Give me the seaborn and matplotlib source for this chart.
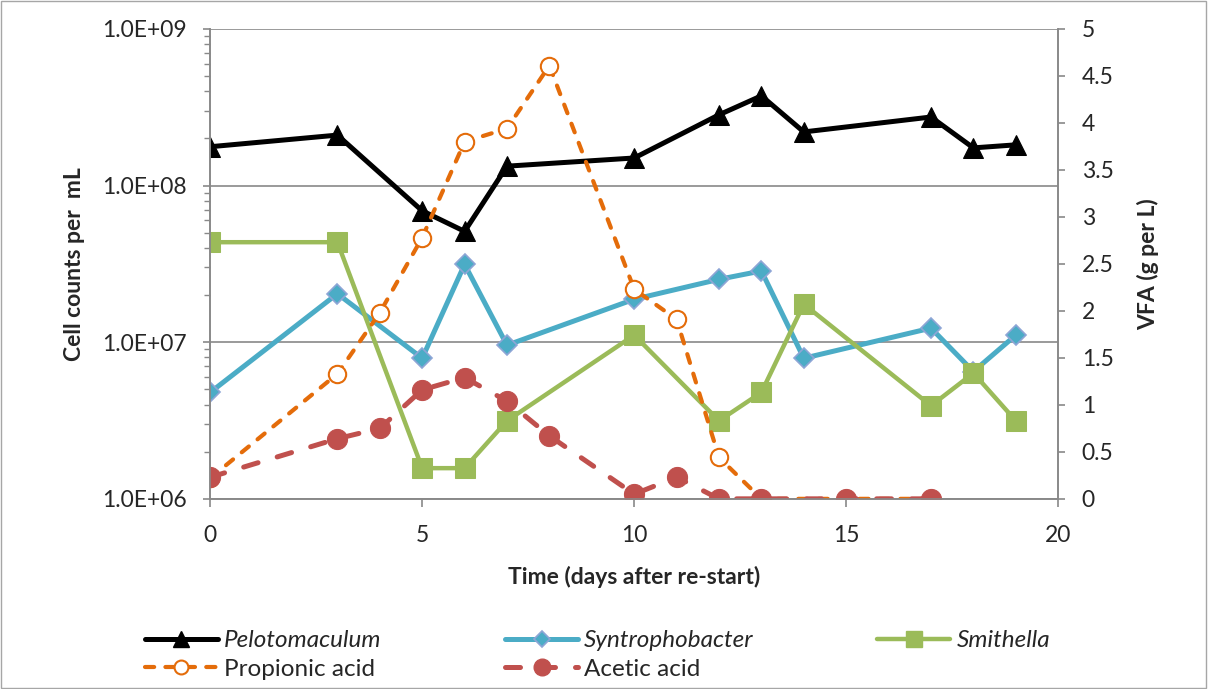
import math
import matplotlib
matplotlib.use("Agg")
import matplotlib.pyplot as plt
from matplotlib.ticker import FixedLocator, FuncFormatter, LogLocator, NullFormatter
from matplotlib.lines import Line2D
from matplotlib.patches import Rectangle
import seaborn as sns

# Cell counts (per mL), left log axis
pelo_days = [0, 3, 5, 6, 7, 10, 12, 13, 14, 17, 18, 19]
pelo_counts = [1.77e8, 2.1e8, 6.9e7, 5.1e7, 1.33e8, 1.5e8, 2.83e8, 3.74e8, 2.2e8, 2.74e8, 1.74e8, 1.82e8]

syn_days = [0, 3, 5, 6, 7, 10, 12, 13, 14, 17, 18, 19]
syn_counts = [4.78e6, 2.04e7, 7.9e6, 3.14e7, 9.57e6, 1.88e7, 2.52e7, 2.85e7, 7.9e6, 1.23e7, 6.5e6, 1.11e7]

smi_days = [0, 3, 5, 6, 7, 10, 12, 13, 14, 17, 18, 19]
smi_counts = [4.35e7, 4.35e7, 1.57e6, 1.57e6, 3.15e6, 1.11e7, 3.15e6, 4.78e6, 1.75e7, 3.93e6, 6.35e6, 3.15e6]

# Volatile fatty acids (g per L), right axis
prop_days = [0, 3, 4, 5, 6, 7, 8, 10, 11, 12, 13, 15, 17]
prop_vfa = [0.22, 1.33, 1.98, 2.78, 3.80, 3.94, 4.61, 2.23, 1.91, 0.44, 0.0, 0.0, 0.0]

acet_days = [0, 3, 4, 5, 6, 7, 8, 10, 11, 12, 13, 15, 17]
acet_vfa = [0.23, 0.64, 0.75, 1.16, 1.29, 1.04, 0.67, 0.05, 0.23, 0.0, 0.0, 0.0, 0.0]

left_ticks = [1e6, 1e7, 1e8, 1e9]
right_ticks = [0, 0.5, 1, 1.5, 2, 2.5, 3, 3.5, 4, 4.5, 5]
x_ticks = [0, 5, 10, 15, 20]

sns.set_theme(style="white")
plt.rcParams["font.family"] = ["Lato", "DejaVu Sans"]

C_BLACK = "#000000"
C_BLUE = "#4BACC6"
C_BLUE_EDGE = "#8EA5D6"
C_GREEN = "#9BBB59"
C_ORANGE = "#E46C0A"
C_RED = "#C0504D"
C_AXIS = "#898989"

TICK_FS = 16.5
LABEL_FS = 16.5
LEGEND_FS = 17.5

PROP_DASH = (0, (2.2, 2.7))
ACET_DASH = (0, (3.0, 4.0))

fig = plt.figure(figsize=(12.08, 6.89), dpi=100)
ax = fig.add_axes([0.174, 0.276, 0.702, 0.682])
ax2 = ax.twinx()

# Bacterial cell counts
sns.lineplot(x=pelo_days, y=pelo_counts, ax=ax, color=C_BLACK, linewidth=3.6,
             marker="^", markersize=14.5, markeredgecolor=C_BLACK, legend=False)
sns.lineplot(x=syn_days, y=syn_counts, ax=ax, color=C_BLUE, linewidth=3.6,
             marker="D", markersize=10, markeredgecolor=C_BLUE_EDGE,
             markeredgewidth=1.2, legend=False)
sns.lineplot(x=smi_days, y=smi_counts, ax=ax, color=C_GREEN, linewidth=3.2,
             marker="s", markersize=14, markeredgecolor=C_GREEN, legend=False)

# VFA concentrations
sns.lineplot(x=prop_days, y=prop_vfa, ax=ax2, color=C_ORANGE, linewidth=3.0,
             marker="o", markersize=12.5, markerfacecolor="white",
             markeredgecolor=C_ORANGE, markeredgewidth=1.5, legend=False)
ax2.lines[-1].set_linestyle(PROP_DASH)
sns.lineplot(x=acet_days, y=acet_vfa, ax=ax2, color=C_RED, linewidth=3.6,
             marker="o", markersize=14.5, markeredgecolor=C_RED, legend=False)
ax2.lines[-1].set_linestyle(ACET_DASH)
for ln in ax.lines + ax2.lines:
    ln.set_dash_capstyle("round")
    ln.set_solid_joinstyle("miter")

# Left log axis
ax.set_yscale("log")
ax.set_ylim(1e6, 1e9)
ax.yaxis.set_major_locator(FixedLocator(left_ticks))
ax.yaxis.set_minor_locator(LogLocator(base=10, subs=range(2, 10)))
ax.yaxis.set_minor_formatter(NullFormatter())
ax.yaxis.set_major_formatter(
    FuncFormatter(lambda v, p: f"1.0E+{int(round(math.log10(v))):02d}"))
ax.set_xlim(0, 20)
ax.xaxis.set_major_locator(FixedLocator(x_ticks))
ax.grid(axis="y", which="major", color=C_AXIS, linewidth=1.2)
ax.grid(axis="x", visible=False)

ax2.set_ylim(0, 5)
ax2.yaxis.set_major_locator(FixedLocator(right_ticks))
ax2.yaxis.set_major_formatter(FuncFormatter(lambda v, p: f"{v:g}"))
ax2.grid(False)

for a in (ax, ax2):
    for sp in a.spines.values():
        sp.set_color(C_AXIS)
        sp.set_linewidth(1.2)
    a.spines["top"].set_visible(False)

ax.tick_params(axis="y", which="major", direction="out", length=5, width=1.2,
               color=C_AXIS, labelsize=TICK_FS, pad=12, left=True)
ax.tick_params(axis="y", which="minor", direction="out", length=4, width=1.0,
               color=C_AXIS, left=True)
ax.tick_params(axis="x", which="major", direction="out", length=5.5, width=1.2,
               color=C_AXIS, labelsize=TICK_FS, pad=13, bottom=True)
ax2.tick_params(axis="y", which="major", direction="out", length=5, width=1.2,
                color=C_AXIS, labelsize=TICK_FS, pad=12, right=True)

ax.set_ylabel("Cell counts per  mL", fontsize=LABEL_FS, fontweight="bold", labelpad=12)
ax2.set_ylabel("VFA (g per L)", fontsize=LABEL_FS, fontweight="bold", labelpad=17)
ax.set_xlabel("Time (days after re-start)", fontsize=LABEL_FS, fontweight="bold", labelpad=15)

# Legend below the plot, three columns
handles = [
    Line2D([], [], color=C_BLACK, linewidth=3.6, marker="^", markersize=11),
    Line2D([], [], color=C_ORANGE, linewidth=3.0, linestyle=PROP_DASH,
           dash_capstyle="round", marker="o", markersize=10,
           markerfacecolor="white", markeredgecolor=C_ORANGE, markeredgewidth=1.5),
    Line2D([], [], color=C_BLUE, linewidth=3.6, marker="D", markersize=8,
           markeredgecolor=C_BLUE_EDGE, markeredgewidth=1.2),
    Line2D([], [], color=C_RED, linewidth=3.6, linestyle=ACET_DASH,
           dash_capstyle="round", marker="o", markersize=12),
    Line2D([], [], color=C_GREEN, linewidth=3.2, marker="s", markersize=11),
]
labels = ["Pelotomaculum", "Propionic acid", "Syntrophobacter", "Acetic acid", "Smithella"]
leg = fig.legend(handles, labels, loc="center left", ncol=3,
                 bbox_to_anchor=(145 / 1208, 1 - 655 / 689, 905 / 1208, 0.0),
                 mode="expand", frameon=False, fontsize=LEGEND_FS,
                 handlelength=3.0, handletextpad=0.25, labelspacing=0.3,
                 borderaxespad=0, borderpad=0)
for txt in leg.get_texts():
    if txt.get_text() in ("Pelotomaculum", "Syntrophobacter", "Smithella"):
        txt.set_fontstyle("italic")

# Chart area frame
fig.patches.append(Rectangle((0.001, 0.001), 0.997, 0.997, transform=fig.transFigure,
                             fill=False, edgecolor="#A6A6A6", linewidth=1.0))

fig.savefig("out.png", dpi=100)
